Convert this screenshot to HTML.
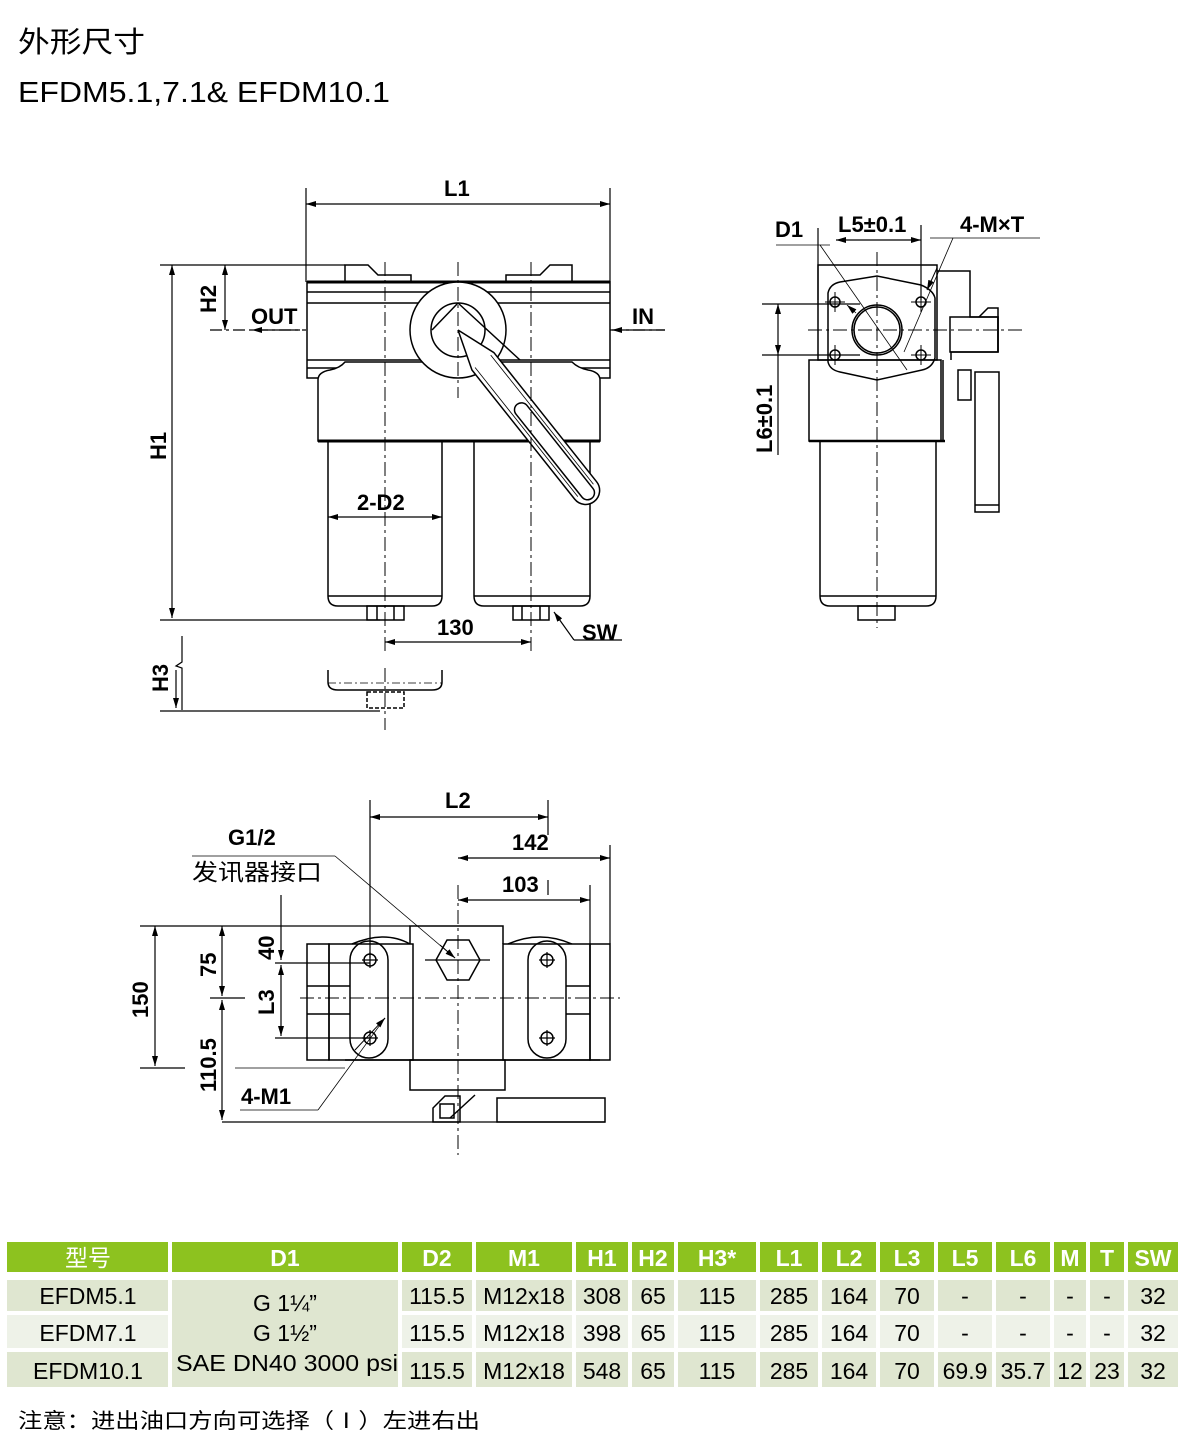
<!DOCTYPE html>
<html><head><meta charset="utf-8"><style>
html,body{margin:0;padding:0;background:#fff}
svg{display:block}
.t{font-family:"Liberation Sans","Noto Sans CJK SC",sans-serif}
</style></head><body>
<svg width="1181" height="1455" viewBox="0 0 1181 1455" xmlns="http://www.w3.org/2000/svg">
<defs>
<marker id="a" viewBox="0 0 10 6" refX="10" refY="3" markerWidth="10" markerHeight="6" orient="auto-start-reverse" markerUnits="userSpaceOnUse"><path d="M0,0L10,3L0,6z" fill="#000"/></marker>
</defs>
<g class="t">
<text x="18" y="52" font-size="29" textLength="127" lengthAdjust="spacingAndGlyphs">外形尺寸</text>
<text x="18" y="102" font-size="29" textLength="372" lengthAdjust="spacingAndGlyphs">EFDM5.1,7.1&amp; EFDM10.1</text>
</g>

<!-- FRONT VIEW -->
<g fill="none" stroke="#000" stroke-width="1.5">
<line x1="306" y1="188" x2="306" y2="282" stroke-width="1.2"/><line x1="610" y1="188" x2="610" y2="282" stroke-width="1.2"/>
<line x1="306" y1="204" x2="610" y2="204" marker-start="url(#a)" marker-end="url(#a)" stroke-width="1.2"/>
<line x1="160" y1="265" x2="345" y2="265" stroke-width="1.2"/>
<line x1="172" y1="265" x2="172" y2="618" marker-start="url(#a)" marker-end="url(#a)" stroke-width="1.2"/>
<line x1="160" y1="620" x2="380" y2="620" stroke-width="1.2"/>
<line x1="225" y1="265" x2="225" y2="330" marker-start="url(#a)" marker-end="url(#a)" stroke-width="1.2"/>
<line x1="210" y1="330" x2="306" y2="330" stroke-dasharray="12,4,3,4" stroke-width="1.2"/>
<line x1="300" y1="330" x2="252" y2="330" marker-end="url(#a)" stroke-width="1.2"/>
<line x1="610" y1="330" x2="665" y2="330" stroke-dasharray="12,4,3,4" stroke-width="1.2"/>
<line x1="665" y1="330" x2="612" y2="330" marker-end="url(#a)" stroke-width="1.2"/>
<path d="M345,282V265H368L378,275H411V282"/>
<path d="M506,282V275H540L550,265H572V282"/>
<rect x="307" y="282" width="303" height="96"/>
<line x1="307" y1="282" x2="610" y2="282" stroke-width="3"/>
<line x1="307" y1="292" x2="610" y2="292"/><line x1="307" y1="303" x2="610" y2="303"/>
<line x1="307" y1="360" x2="610" y2="360"/><line x1="307" y1="368" x2="610" y2="368"/>
<path d="M318,441V380Q318,372 330,370Q340,368 345,362H572Q578,368 588,370Q600,372 600,380V441Z" fill="#fff"/>
<line x1="318" y1="441" x2="600" y2="441" stroke-width="3"/>
<path d="M328,441V596Q328,606 338,606H432Q442,606 442,596V441"/>
<path d="M474,441V596Q474,606 484,606H580Q590,606 590,596V441"/>
<line x1="328" y1="596" x2="442" y2="596"/><line x1="474" y1="596" x2="590" y2="596"/>
<rect x="367" y="606" width="37" height="14"/><line x1="377" y1="606" x2="377" y2="620"/><line x1="394" y1="606" x2="394" y2="620"/>
<rect x="513" y="606" width="36" height="14"/><line x1="522" y1="606" x2="522" y2="620"/><line x1="540" y1="606" x2="540" y2="620"/>
<line x1="554" y1="612" x2="574" y2="640" marker-start="url(#a)" stroke-width="1.2"/><line x1="574" y1="640" x2="622" y2="640" stroke-width="1.2"/>
<line x1="328" y1="517" x2="442" y2="517" marker-start="url(#a)" marker-end="url(#a)" stroke-width="1.2"/>
<line x1="385" y1="642" x2="531" y2="642" marker-start="url(#a)" marker-end="url(#a)" stroke-width="1.2"/>
<circle cx="458" cy="330" r="48" fill="#fff"/>
<circle cx="458" cy="330" r="27"/>
<path d="M458,303L432,330"/>
<g transform="translate(458,330) rotate(51.5)">
<path d="M0,0L40,-14H205A14,14 0 0 1 205,14H40L0,0" fill="#fff"/>
<rect x="95" y="-7" width="120" height="14" rx="7"/>
<line x1="40" y1="-10" x2="205" y2="-10" stroke-width="0.8"/>
<line x1="40" y1="10" x2="205" y2="10" stroke-width="0.8"/>
</g>
<line x1="458" y1="303" x2="520" y2="360"/>
<g stroke-dasharray="14,4,3,4" stroke-width="1">
<line x1="385" y1="262" x2="385" y2="655"/>
<line x1="531" y1="262" x2="531" y2="655"/>
<line x1="458" y1="262" x2="458" y2="398"/>
<line x1="385" y1="668" x2="385" y2="730"/>
</g>
<path d="M182,636V662L176,666L182,668V710" stroke-width="1.2"/>
<line x1="176" y1="670" x2="176" y2="708" marker-end="url(#a)" stroke-width="1.2"/>
<line x1="160" y1="711" x2="380" y2="711" stroke-width="1.2"/>
<path d="M328,670V682Q328,690 338,690H432Q442,690 442,682V670"/>
<line x1="328" y1="683" x2="442" y2="683" stroke-dasharray="8,3,2,3" stroke-width="0.8"/>
<rect x="367" y="692" width="37" height="16" stroke-dasharray="4,2"/>
</g>
<g class="t" font-weight="bold" font-size="22">
<text x="444" y="196">L1</text>
<text x="251" y="324">OUT</text>
<text x="632" y="324">IN</text>
<text x="357" y="510">2-D2</text>
<text x="437" y="635">130</text>
<text x="582" y="640">SW</text>
<text transform="translate(216,313) rotate(-90)">H2</text>
<text transform="translate(166,460) rotate(-90)">H1</text>
<text transform="translate(168,692) rotate(-90)">H3</text>
</g>

<!-- SIDE VIEW -->
<g fill="none" stroke="#000" stroke-width="1.5">
<rect x="818" y="265" width="119" height="95"/>
<path d="M828,293Q830,284 840,282L877,276L921,285Q933,290 935,298V358Q932,368 922,370L877,380L840,372Q830,370 828,362Z"/>
<circle cx="877" cy="330" r="25"/><circle cx="877" cy="330" r="23"/>
<g><circle cx="835" cy="302" r="5"/><circle cx="921" cy="302" r="5"/><circle cx="835" cy="355" r="5"/><circle cx="921" cy="355" r="5"/>
<path d="M825,302H845M835,292V312M911,302H931M921,292V312M825,355H845M835,345V365M911,355H931M921,345V365" stroke-width="1"/></g>
<path d="M809,441V360H941V441Z"/>
<line x1="809" y1="441" x2="945" y2="441" stroke-width="2.5"/>
<line x1="943" y1="360" x2="943" y2="441"/>
<path d="M820,441V596Q820,606 830,606H926Q936,606 936,596V441"/>
<line x1="820" y1="596" x2="936" y2="596"/>
<rect x="858" y="606" width="37" height="14"/>
<path d="M937,271H970V317H998V352H951V360"/>
<rect x="950" y="317" width="48" height="35"/>
<path d="M979,317L988,308H998V352"/>
<rect x="958" y="370" width="13" height="30"/>
<rect x="975" y="372" width="24" height="140"/>
<line x1="975" y1="505" x2="999" y2="505"/>
<g stroke-width="1.2">
<line x1="818" y1="228" x2="818" y2="300"/><line x1="921" y1="225" x2="921" y2="300"/>
<line x1="836" y1="240" x2="921" y2="240" marker-start="url(#a)" marker-end="url(#a)"/>
<line x1="762" y1="304" x2="860" y2="304"/><line x1="762" y1="355" x2="860" y2="355"/>
<line x1="778" y1="304" x2="778" y2="355" marker-start="url(#a)" marker-end="url(#a)"/>
<line x1="778" y1="355" x2="778" y2="455"/>
</g>
<line x1="776" y1="245" x2="830" y2="245" stroke-width="0.8"/>
<line x1="820" y1="245" x2="907" y2="370" stroke-width="0.8"/>
<line x1="847" y1="305" x2="856" y2="313" marker-start="url(#a)" stroke-width="0.8"/>
<line x1="930" y1="238" x2="1040" y2="238" stroke-width="0.8"/>
<line x1="953" y1="238" x2="904" y2="352" stroke-width="0.8"/>
<line x1="937" y1="268" x2="927" y2="290" marker-end="url(#a)" stroke-width="1"/>
<g stroke-dasharray="14,4,3,4" stroke-width="1">
<line x1="877" y1="252" x2="877" y2="628"/>
<line x1="808" y1="330" x2="1025" y2="330"/>
</g>
</g>
<g class="t" font-weight="bold" font-size="22">
<text x="775" y="237">D1</text>
<text x="838" y="232">L5±0.1</text>
<text x="960" y="232">4-M×T</text>
<text transform="translate(772,453) rotate(-90)">L6±0.1</text>
</g>

<!-- BOTTOM VIEW -->
<g fill="none" stroke="#000" stroke-width="1.5">
<g stroke-width="1.2">
<line x1="370" y1="800" x2="370" y2="958"/><line x1="548" y1="800" x2="548" y2="835"/>
<line x1="370" y1="817" x2="548" y2="817" marker-start="url(#a)" marker-end="url(#a)"/>
<line x1="610" y1="845" x2="610" y2="944"/>
<line x1="458" y1="858" x2="610" y2="858" marker-start="url(#a)" marker-end="url(#a)"/>
<line x1="590" y1="885" x2="590" y2="944"/>
<line x1="458" y1="900" x2="590" y2="900" marker-start="url(#a)" marker-end="url(#a)"/>
<line x1="548" y1="880" x2="548" y2="895"/>
</g>
<line x1="192" y1="856" x2="335" y2="856" stroke-width="0.8"/>
<line x1="335" y1="856" x2="455" y2="958" stroke-width="0.8"/>
<line x1="440" y1="945" x2="455" y2="958" marker-end="url(#a)" stroke-width="1"/>
<path d="M410,944V926H503V944"/>
<path d="M352,944Q385,930 410,944"/><path d="M508,944Q540,930 572,944"/>
<rect x="329" y="944" width="84" height="116"/>
<rect x="503" y="944" width="87" height="116"/>
<path d="M307,944H329V1060H307Z M307,986H329 M307,1014H329"/>
<path d="M329,986H350 M329,1014H350"/>
<path d="M590,944H610V1060H590Z"/>
<path d="M566,986H590 M566,1014H590"/>
<rect x="350" y="941" width="38" height="117" rx="19"/>
<rect x="528" y="941" width="38" height="117" rx="19"/>
<g><circle cx="370" cy="960" r="6"/><circle cx="370" cy="1038" r="6"/><circle cx="547" cy="960" r="6"/><circle cx="547" cy="1038" r="6"/>
<path d="M362,960H378M370,952V968M362,1038H378M370,1030V1046M539,960H555M547,952V968M539,1038H555M547,1030V1046" stroke-width="1.2"/></g>
<polygon points="447,940 469,940 480,960 469,980 447,980 436,960"/>
<line x1="425" y1="960" x2="490" y2="960" stroke-width="1.2"/>
<line x1="345" y1="1060" x2="600" y2="1060"/>
<rect x="410" y="1060" width="95" height="30"/>
<path d="M433,1122V1108L445,1096H460V1122Z"/>
<rect x="440" y="1104" width="14" height="14"/>
<line x1="450" y1="1118" x2="475" y2="1095"/>
<rect x="497" y="1098" width="108" height="24"/>
<g stroke-width="1.2">
<line x1="433" y1="1122" x2="605" y2="1122"/>
<line x1="140" y1="926" x2="410" y2="926"/>
<line x1="155" y1="926" x2="155" y2="1066" marker-start="url(#a)" marker-end="url(#a)"/>
<line x1="140" y1="1068" x2="185" y2="1068"/>
<line x1="235" y1="1068" x2="345" y2="1068" stroke-width="0.8"/>
<line x1="222" y1="926" x2="222" y2="996" marker-start="url(#a)" marker-end="url(#a)"/>
<line x1="222" y1="1000" x2="222" y2="1120" marker-start="url(#a)" marker-end="url(#a)"/>
<line x1="210" y1="998" x2="245" y2="998"/>
<line x1="222" y1="1122" x2="433" y2="1122"/>
<line x1="281" y1="895" x2="281" y2="960" marker-end="url(#a)"/>
<line x1="281" y1="965" x2="281" y2="1036" marker-start="url(#a)" marker-end="url(#a)"/>
<line x1="275" y1="963" x2="370" y2="963"/><line x1="275" y1="1038" x2="370" y2="1038"/>
</g>
<line x1="240" y1="1110" x2="318" y2="1110" stroke-width="0.8"/>
<line x1="318" y1="1110" x2="385" y2="1018" stroke-width="0.8"/>
<line x1="355" y1="1050" x2="385" y2="1018" marker-end="url(#a)" stroke-width="1"/>
<g stroke-dasharray="14,4,3,4" stroke-width="1">
<line x1="300" y1="998" x2="620" y2="998"/>
<line x1="458" y1="885" x2="458" y2="1155"/>
</g>
</g>
<g class="t" font-weight="bold" font-size="22">
<text x="445" y="808">L2</text>
<text x="512" y="850">142</text>
<text x="502" y="892">103</text>
<text x="228" y="845">G1/2</text>
<text x="192" y="880" font-weight="normal" font-size="23" textLength="130" lengthAdjust="spacingAndGlyphs">发讯器接口</text>
<text transform="translate(148,1018) rotate(-90)">150</text>
<text transform="translate(216,977) rotate(-90)">75</text>
<text transform="translate(274,960) rotate(-90)">40</text>
<text transform="translate(274,1015) rotate(-90)">L3</text>
<text transform="translate(216,1092) rotate(-90)">110.5</text>
<text x="241" y="1104">4-M1</text>
</g>

<!-- TABLE -->
<g fill="#8dc21f">
<rect x="7" y="1242" width="161" height="30"/><rect x="172" y="1242" width="226" height="30"/>
<rect x="402" y="1242" width="70" height="30"/><rect x="476" y="1242" width="96" height="30"/>
<rect x="576" y="1242" width="52" height="30"/><rect x="632" y="1242" width="42" height="30"/>
<rect x="678" y="1242" width="78" height="30"/><rect x="760" y="1242" width="58" height="30"/>
<rect x="822" y="1242" width="54" height="30"/><rect x="880" y="1242" width="54" height="30"/>
<rect x="938" y="1242" width="54" height="30"/><rect x="996" y="1242" width="54" height="30"/>
<rect x="1054" y="1242" width="32" height="30"/><rect x="1090" y="1242" width="34" height="30"/>
<rect x="1128" y="1242" width="50" height="30"/>
</g>
<g>
<rect x="7" y="1280" width="1171" height="31" fill="#dfe6d0"/>
<rect x="7" y="1315" width="1171" height="33" fill="#eef2e8"/>
<rect x="7" y="1352" width="1171" height="35" fill="#dfe6d0"/>
<rect x="172" y="1280" width="226" height="107" fill="#dfe6d0"/>
<g fill="#fff">
<rect x="168" y="1276" width="4" height="115"/><rect x="398" y="1276" width="4" height="115"/>
<rect x="472" y="1276" width="4" height="115"/><rect x="572" y="1276" width="4" height="115"/>
<rect x="628" y="1276" width="4" height="115"/><rect x="674" y="1276" width="4" height="115"/>
<rect x="756" y="1276" width="4" height="115"/><rect x="818" y="1276" width="4" height="115"/>
<rect x="876" y="1276" width="4" height="115"/><rect x="934" y="1276" width="4" height="115"/>
<rect x="992" y="1276" width="4" height="115"/><rect x="1050" y="1276" width="4" height="115"/>
<rect x="1086" y="1276" width="4" height="115"/><rect x="1124" y="1276" width="4" height="115"/>
<rect x="0" y="1311" width="172" height="4"/><rect x="398" y="1311" width="783" height="4"/>
<rect x="0" y="1348" width="172" height="4"/><rect x="398" y="1348" width="783" height="4"/>
</g>
</g>
<g class="t" font-size="23" text-anchor="middle">
<g fill="#fff" font-weight="bold">
<text x="88" y="1266" font-weight="normal">型号</text><text x="285" y="1266">D1</text><text x="437" y="1266">D2</text>
<text x="524" y="1266">M1</text><text x="602" y="1266">H1</text><text x="653" y="1266">H2</text><text x="717" y="1266">H3*</text>
<text x="789" y="1266">L1</text><text x="849" y="1266">L2</text><text x="907" y="1266">L3</text><text x="965" y="1266">L5</text>
<text x="1023" y="1266">L6</text><text x="1070" y="1266">M</text><text x="1107" y="1266">T</text><text x="1153" y="1266">SW</text>
</g>
<g fill="#000">
<text x="88" y="1304">EFDM5.1</text><text x="88" y="1341">EFDM7.1</text><text x="88" y="1379">EFDM10.1</text>
<text x="285" y="1311">G 1¼”</text><text x="285" y="1341">G 1½”</text>
<text x="287" y="1371" textLength="222" lengthAdjust="spacingAndGlyphs">SAE DN40 3000 psi</text>
<g><text x="437" y="1304">115.5</text><text x="524" y="1304">M12x18</text><text x="602" y="1304">308</text><text x="653" y="1304">65</text><text x="717" y="1304">115</text><text x="789" y="1304">285</text><text x="849" y="1304">164</text><text x="907" y="1304">70</text><text x="965" y="1304">-</text><text x="1023" y="1304">-</text><text x="1070" y="1304">-</text><text x="1107" y="1304">-</text><text x="1153" y="1304">32</text></g>
<g><text x="437" y="1341">115.5</text><text x="524" y="1341">M12x18</text><text x="602" y="1341">398</text><text x="653" y="1341">65</text><text x="717" y="1341">115</text><text x="789" y="1341">285</text><text x="849" y="1341">164</text><text x="907" y="1341">70</text><text x="965" y="1341">-</text><text x="1023" y="1341">-</text><text x="1070" y="1341">-</text><text x="1107" y="1341">-</text><text x="1153" y="1341">32</text></g>
<g><text x="437" y="1379">115.5</text><text x="524" y="1379">M12x18</text><text x="602" y="1379">548</text><text x="653" y="1379">65</text><text x="717" y="1379">115</text><text x="789" y="1379">285</text><text x="849" y="1379">164</text><text x="907" y="1379">70</text><text x="965" y="1379">69.9</text><text x="1023" y="1379">35.7</text><text x="1070" y="1379">12</text><text x="1107" y="1379">23</text><text x="1153" y="1379">32</text></g>
</g>
</g>
<text class="t" x="18" y="1428" font-size="21" textLength="462" lengthAdjust="spacingAndGlyphs">注意：进出油口方向可选择（Ⅰ）左进右出</text>
</svg>
</body></html>
